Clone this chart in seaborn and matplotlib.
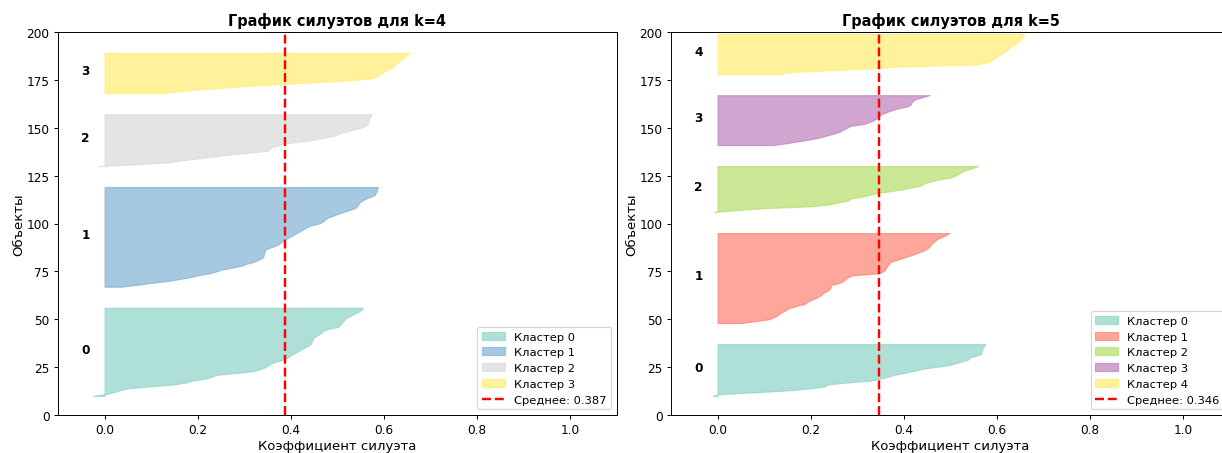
import numpy as np
import matplotlib
matplotlib.use("Agg")
import matplotlib.pyplot as plt
import seaborn as sns

# Silhouette coefficients per cluster, k = 4
sil_k4_c0 = [-0.025, 0.005, 0.02, 0.035, 0.05, 0.10, 0.15, 0.175, 0.19, 0.215,
             0.23, 0.24, 0.285, 0.32, 0.335, 0.345, 0.352, 0.358, 0.37, 0.385,
             0.393, 0.398, 0.405, 0.413, 0.42, 0.428, 0.436, 0.442, 0.444, 0.446,
             0.447, 0.452, 0.46, 0.465, 0.47, 0.48, 0.502, 0.505, 0.508, 0.512,
             0.516, 0.52, 0.53, 0.537, 0.545, 0.552, 0.554]
sil_k4_c1 = [0.035, 0.07, 0.10, 0.135, 0.16, 0.185, 0.20, 0.225, 0.24, 0.252,
             0.275, 0.295, 0.305, 0.32, 0.33, 0.338, 0.341, 0.342, 0.343, 0.344,
             0.35, 0.362, 0.372, 0.378, 0.384, 0.39, 0.398, 0.405, 0.412, 0.42,
             0.426, 0.434, 0.442, 0.46, 0.469, 0.473, 0.478, 0.49, 0.50, 0.512,
             0.525, 0.537, 0.542, 0.545, 0.547, 0.553, 0.561, 0.572, 0.58, 0.582,
             0.584, 0.585, 0.587]
sil_k4_c2 = [-0.012, 0.07, 0.14, 0.165, 0.20, 0.235, 0.27, 0.31, 0.35, 0.355,
             0.36, 0.375, 0.39, 0.43, 0.455, 0.475, 0.495, 0.503, 0.52, 0.533,
             0.55, 0.56, 0.565, 0.566, 0.567, 0.568, 0.571, 0.574]
sil_k4_c3 = [0.13, 0.155, 0.20, 0.26, 0.32, 0.39, 0.47, 0.54, 0.575, 0.585,
             0.59, 0.596, 0.605, 0.614, 0.62, 0.624, 0.629, 0.633, 0.64, 0.645,
             0.65, 0.656]
mean_k4 = 0.387

# Silhouette coefficients per cluster, k = 5
sil_k5_c0 = [-0.01, 0.01, 0.09, 0.16, 0.20, 0.232, 0.236, 0.28, 0.33, 0.35,
             0.365, 0.38, 0.40, 0.42, 0.437, 0.465, 0.495, 0.51, 0.525, 0.538,
             0.541, 0.555, 0.566, 0.567, 0.568, 0.569, 0.572, 0.575]
sil_k5_c1 = [0.05, 0.08, 0.11, 0.12, 0.128, 0.133, 0.14, 0.148, 0.155, 0.17,
             0.187, 0.192, 0.20, 0.21, 0.218, 0.224, 0.228, 0.236, 0.241, 0.243,
             0.244, 0.262, 0.27, 0.274, 0.28, 0.29, 0.346, 0.356, 0.36, 0.362,
             0.365, 0.368, 0.371, 0.385, 0.398, 0.41, 0.422, 0.432, 0.444, 0.45,
             0.455, 0.458, 0.462, 0.467, 0.472, 0.482, 0.49, 0.498]
sil_k5_c2 = [-0.008, 0.04, 0.10, 0.20, 0.24, 0.26, 0.28, 0.284, 0.31, 0.325,
             0.345, 0.375, 0.40, 0.42, 0.439, 0.443, 0.458, 0.475, 0.50, 0.51,
             0.518, 0.525, 0.535, 0.548, 0.559]
sil_k5_c3 = [0.12, 0.15, 0.175, 0.20, 0.22, 0.235, 0.25, 0.262, 0.27, 0.278,
             0.285, 0.315, 0.326, 0.335, 0.341, 0.347, 0.351, 0.36, 0.372, 0.385,
             0.405, 0.414, 0.416, 0.419, 0.425, 0.44, 0.455]
sil_k5_c4 = [0.133, 0.15, 0.24, 0.33, 0.39, 0.55, 0.578, 0.587, 0.593, 0.599,
             0.605, 0.612, 0.617, 0.623, 0.628, 0.633, 0.641, 0.646, 0.65, 0.653,
             0.656, 0.658]
mean_k5 = 0.346

x_ticks = [0.0, 0.2, 0.4, 0.6, 0.8, 1.0]
y_ticks = [0, 25, 50, 75, 100, 125, 150, 175, 200]

DPI = 87
W, H = 1222, 454
fig = plt.figure(figsize=(W / DPI, H / DPI), dpi=DPI)

palette = sns.color_palette("Set3", 12)


def cluster_color(i, k):
    # sample the qualitative palette evenly across the clusters
    idx = min(int(i / (k - 1) * len(palette)), len(palette) - 1)
    return palette[idx]


def silhouette_panel(ax, clusters, mean_value, k):
    y_lower = 10
    for i, vals in enumerate(clusters):
        vals = np.sort(np.asarray(vals, dtype=float))
        size = len(vals)
        y_upper = y_lower + size
        color = cluster_color(i, k)
        ax.fill_betweenx(np.arange(y_lower, y_upper), 0, vals,
                         facecolor=color, edgecolor=color, alpha=0.7,
                         label=f"Кластер {i}")
        ax.text(-0.05, y_lower + 0.5 * size - 1, str(i), fontsize=10,
                fontweight="bold")
        y_lower = y_upper + 10
    ax.axvline(mean_value, color="red", linestyle="--", linewidth=2,
               label=f"Среднее: {mean_value:.3f}")
    ax.set_xlim(-0.1, 1.1)
    ax.set_ylim(0, 200)
    ax.set_xticks(x_ticks)
    ax.set_yticks(y_ticks)
    ax.set_title(f"График силуэтов для k={k}", fontsize=12, fontweight="bold")
    ax.set_xlabel("Коэффициент силуэта", fontsize=11, labelpad=2)
    ax.set_ylabel("Объекты", fontsize=11, labelpad=1)
    ax.legend(loc="lower right", fontsize=9.5)


ax_w = 559 / W
ax_h = 383 / H
ax_b = (H - 416) / H
ax1 = fig.add_axes([58 / W, ax_b, ax_w, ax_h])
ax2 = fig.add_axes([671 / W, ax_b, ax_w, ax_h])

silhouette_panel(ax1, [sil_k4_c0, sil_k4_c1, sil_k4_c2, sil_k4_c3], mean_k4, 4)
silhouette_panel(ax2, [sil_k5_c0, sil_k5_c1, sil_k5_c2, sil_k5_c3, sil_k5_c4], mean_k5, 5)

fig.savefig("out.png", dpi=DPI)
